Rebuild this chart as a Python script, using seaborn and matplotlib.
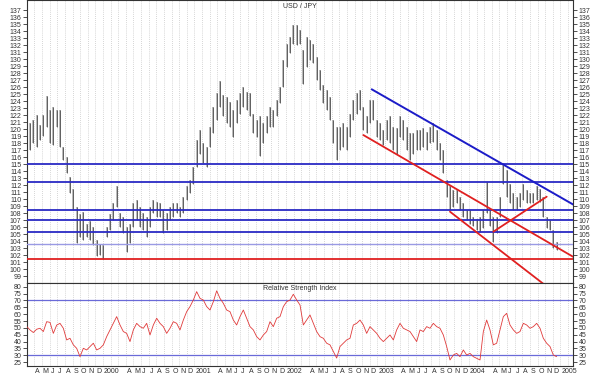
import numpy as np
import pandas as pd
import matplotlib
matplotlib.use("Agg")
import matplotlib.pyplot as plt
import seaborn as sns

# ---------------- data ----------------
# bar highs / lows, one bar every ~13 days from late Feb 1999 to late Nov 2004
high = [123.7, 120.8, 121.3, 122.0, 120.6, 122.0, 124.7, 122.7, 123.2, 122.7,
        122.7, 117.5, 116.0, 113.2, 111.5, 108.9, 107.9, 108.2, 106.5, 106.8,
        106.0, 104.1, 103.6, 103.4, 106.0, 107.9, 109.4, 111.8, 108.0, 107.5,
        106.0, 106.5, 109.4, 109.9, 108.9, 108.0, 107.5, 108.9, 109.9, 109.6,
        109.4, 108.4, 108.0, 108.9, 109.4, 109.4, 108.9, 110.3, 111.8, 112.7,
        114.6, 118.4, 119.9, 118.0, 117.5, 120.3, 123.2,
        125.1, 126.8, 124.9, 124.6, 123.9, 122.7, 124.1, 125.1, 126.0, 125.3,
        125.1, 122.2, 121.3, 121.8, 120.8, 121.8, 123.2, 122.7, 124.1, 126.0,
        129.9, 132.2, 133.2, 134.9, 134.9, 134.1, 131.3, 133.2, 132.7, 132.2,
        130.3, 128.4, 126.3, 125.6, 124.6, 121.3, 120.3, 120.3, 120.8, 120.3,
        122.2, 124.1, 125.1, 125.6, 123.2, 121.8, 124.1, 124.1, 121.3, 120.8,
        119.9, 121.3,
        121.8, 120.3, 120.1, 121.8, 121.3, 120.3, 119.4, 119.4, 119.9, 119.9,
        120.1, 119.6, 120.3, 120.8, 119.9, 118.0, 117.0, 112.7, 111.8, 111.3,
        111.3, 110.3, 109.4, 108.4, 108.4, 107.5, 107.2, 107.5, 108.4, 112.5,
        108.4, 107.5, 107.5, 110.3, 114.9, 114.1, 112.2, 110.8, 110.3, 110.8,
        112.2, 111.3, 110.8, 110.8, 111.8, 111.5, 110.3, 107.5, 107.0, 105.6,
        103.9]
low = [118.9, 117.0, 118.0, 117.5, 118.4, 119.0, 120.3, 118.0, 117.7, 120.3,
       117.5, 115.6, 113.7, 110.8, 108.4, 103.7, 104.6, 104.1, 104.6, 104.1,
       103.4, 101.8, 102.0, 101.5, 104.6, 105.6, 107.0, 108.9, 106.0, 105.1,
       102.5, 103.7, 106.0, 107.0, 106.0, 105.6, 104.6, 106.0, 108.0, 107.5,
       107.5, 105.1, 105.6, 107.0, 107.5, 108.0, 107.5, 108.0, 109.9, 110.8,
       112.2, 114.6, 116.5, 115.1, 114.6, 117.5, 119.4,
       121.3, 123.2, 121.8, 120.8, 120.3, 118.9, 120.8, 122.2, 123.2, 122.7,
       121.8, 119.4, 118.9, 116.1, 118.0, 119.4, 120.3, 120.3, 121.8, 123.7,
       126.0, 128.9, 130.8, 132.2, 132.0, 132.2, 126.5, 128.9, 129.9, 129.4,
       127.0, 125.6, 123.7, 122.7, 121.3, 118.0, 115.6, 117.0, 117.5, 117.0,
       118.9, 121.3, 122.2, 122.7, 119.9, 119.4, 120.8, 121.3, 118.9, 118.4,
       117.7, 118.4,
       118.0, 117.0, 116.5, 118.9, 118.4, 117.0, 115.6, 116.5, 117.0, 117.0,
       117.5, 117.0, 118.0, 118.2, 117.0, 115.6, 113.7, 110.3, 108.4, 108.9,
       109.4, 108.4, 107.5, 107.0, 106.5, 106.1, 105.6, 105.3, 105.8, 108.0,
       106.1, 103.9, 105.1, 107.5, 112.2, 110.3, 109.4, 108.4, 108.4, 108.9,
       109.9, 109.4, 109.4, 109.4, 109.9, 109.6, 107.5, 105.8, 105.6, 103.0,
       102.7]
rsi = [51.0, 48.5, 46.6, 49.0, 49.7, 47.3, 54.5, 54.0, 46.0, 52.0,
       53.3, 49.7, 41.2, 42.4, 37.6, 35.1, 29.0, 35.1, 33.9, 36.4,
       38.8, 33.9, 35.1, 37.6, 43.6, 48.5, 53.3, 58.2, 52.1, 47.3,
       46.0, 40.0, 48.5, 53.3, 50.9, 49.7, 53.3, 44.8, 52.1, 57.0,
       53.3, 50.9, 46.0, 49.7, 54.5, 53.3, 48.5, 55.7, 61.8, 65.5,
       70.3, 76.4, 71.5,
       70.3, 65.5, 63.0, 69.1, 77.0, 71.5, 67.9, 63.0, 61.8, 55.7,
       52.1, 58.2, 63.0, 57.0, 50.9, 48.5, 43.6, 41.2, 44.8, 47.3,
       54.5, 50.9, 57.0, 58.2, 65.5, 69.1, 70.3, 74.5, 70.3, 66.7,
       52.1, 55.7, 59.4, 53.3, 47.3, 43.6, 42.4, 38.8, 37.6, 32.8,
       28.0, 36.4, 38.8, 41.2, 42.4, 52.1, 53.3, 55.7, 52.1, 46.0,
       50.9, 48.5, 46.0, 42.4, 40.0, 42.4, 44.8, 41.2, 48.5, 53.3,
       49.7, 48.5, 47.3, 43.6, 40.0, 48.5, 47.3, 50.9, 49.7, 53.3,
       50.9, 49.7, 44.8, 36.4, 26.6, 30.2, 31.4, 29.0, 33.9, 30.2,
       31.4, 29.0, 27.8, 26.6, 47.3, 55.7, 48.5, 37.6, 38.8, 48.5,
       58.2, 60.6, 52.1, 48.5, 46.0, 47.3, 53.3, 52.1, 49.7, 50.9,
       53.3, 49.7, 42.4, 38.8, 36.4, 30.2, 29.0]

support_blue = [115.0, 112.5, 108.5, 107.0, 105.3]
support_light = [103.6]
support_red = [101.5]
# trend lines: (start year, start value, end year, end value)
trend_blue = [(2002.937, 125.67, 2005.14, 109.2)]
trend_red = [(2002.845, 119.14, 2005.14, 101.73),
             (2003.792, 108.19, 2004.90, 97.0),
             (2004.266, 105.33, 2004.849, 110.33)]
rsi_levels = [70, 30]
month_letters = ["J", "F", "M", "A", "M", "J", "J", "A", "S", "O", "N", "D"]

# ---------------- layout / time axis ----------------
XMIN = 2000 - 76 / 91.5
XMAX = XMIN + 546 / 91.5
DT = 3.3333 / 91.5
t = XMIN - 0.0036 + DT * np.arange(len(high))

df = pd.DataFrame({"t": t, "high": high, "low": low, "rsi": rsi})

sns.set_style("white")
plt.rcParams["font.family"] = ["Liberation Sans", "DejaVu Sans"]

fig = plt.figure(figsize=(6, 3.78), dpi=100)
ax = fig.add_axes([27 / 600, 1 - 283 / 378, 546 / 600, 283 / 378])
ax2 = fig.add_axes([27 / 600, 12 / 378, 546 / 600, 83 / 378])

months = []
for y in range(1999, 2006):
    for m in range(12):
        tm = y + m / 12
        if XMIN < tm < XMAX:
            months.append((tm, y, m))

for a in (ax, ax2):
    for tm, y, m in months:
        a.axvline(tm, color="#c8c8c8", lw=0.6, ls=(0, (1, 1.5)), zorder=0)

# price bars
ax.vlines(df["t"], df["low"], df["high"], color="#b4b4b4", lw=1.3, zorder=2)
ax.vlines(df["t"], df["low"], df["high"], color="#3c3c3c", lw=0.5, zorder=3)

for v in support_blue:
    ax.axhline(v, color="#2a2ac4", lw=1.3, zorder=4)
for v in support_light:
    ax.axhline(v, color="#9a9ae4", lw=1.0, zorder=4)
for v in support_red:
    ax.axhline(v, color="#e02020", lw=1.3, zorder=4)
for x0, y0, x1, y1 in trend_blue:
    ax.plot([x0, x1], [y0, y1], color="#1c1cc8", lw=1.4, zorder=5)
for x0, y0, x1, y1 in trend_red:
    ax.plot([x0, x1], [y0, y1], color="#e02020", lw=1.3, zorder=5)

ax.set_xlim(XMIN, XMAX)
ax.set_ylim(98.0, 138.43)
ax.set_yticks(range(99, 138))
ax.set_xticks([])
ax.tick_params(axis="y", left=True, right=True, labelleft=True, labelright=True,
               labelsize=5, length=3, width=0.6, pad=1, direction="out", colors="#333333")
ax.text(0.5, 0.99, "USD / JPY", transform=ax.transAxes, ha="center", va="top",
        fontsize=5, color="#333333")

# RSI
sns.lineplot(data=df, x="t", y="rsi", ax=ax2, color="#e03a3a", lw=0.6, zorder=3)
for v in rsi_levels:
    ax2.axhline(v, color="#6a6ad8", lw=0.9, zorder=2)
ax2.set_xlim(XMIN, XMAX)
ax2.set_ylim(22.2, 82.7)
ax2.set_yticks(range(25, 81, 5))
ax2.set_xlabel("")
ax2.set_ylabel("")
ax2.tick_params(axis="y", left=True, right=True, labelleft=True, labelright=True,
                labelsize=5, length=3, width=0.6, pad=1, direction="out", colors="#333333")
ax2.set_xticks([tm for tm, y, m in months])
ax2.set_xticklabels([])
ax2.tick_params(axis="x", length=6, width=0.6, direction="out", colors="#333333")
for tm, y, m in months:
    if m == 0:
        lab = str(y)
    elif m in (1, 2):
        continue
    else:
        lab = month_letters[m]
    ax2.text(tm + 0.008, -0.02, lab, transform=ax2.get_xaxis_transform(),
             ha="left", va="top", fontsize=5, color="#333333")
ax2.text(0.5, 0.97, "Relative Strength Index", transform=ax2.transAxes, ha="center",
         va="top", fontsize=5, color="#333333")

for a in (ax, ax2):
    for s in a.spines.values():
        s.set_color("#333333")
        s.set_linewidth(0.8)

fig.savefig("out.png", dpi=100)
